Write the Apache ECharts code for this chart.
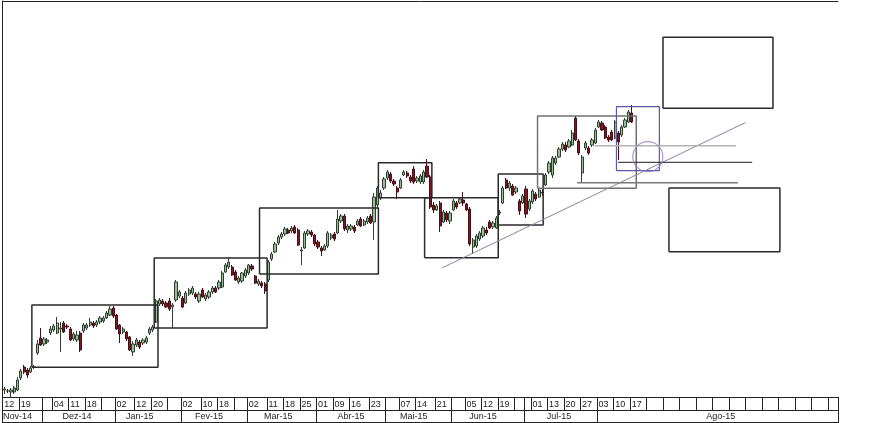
<!DOCTYPE html>
<html><head><meta charset="utf-8">
<script src="https://cdn.jsdelivr.net/npm/echarts@6/dist/echarts.min.js"></script>
<style>html,body{margin:0;padding:0;background:#fff}#c{width:880px;height:423px}</style>
</head><body><div id="c"></div>
<script>
// ---- time slots (trading days + empty future slots) ----
const slotCount = 253;
const categories = Array.from({length: slotCount}, (_, i) => String(i));

// day-row cells: start slot and label
const dayCellStart = [0,5,12,15,20,25,30,34,40,45,50,54,60,65,70,74,80,85,90,95,100,105,111,116,120,125,131,136,140,145,150,155,158,160,165,170,175,180,185,190,195,200,205,210,215,220,225,230,235,240,245,250];
const dayCellLabel = ['12','19','','04','11','18','','02','12','20','','02','10','18','','02','11','18','25','01','09','16','23','','07','14','21','','05','12','19','','','01','13','20','27','03','10','17','','','','','','','','','','','',''];

// month-row cells
const monthStart = [0,12,34,54,74,95,116,136,158,180];
const monthLabelSlot = [4,22,41,62,83,105,124,145,168,217];
const monthName = ['Nov-14','Dez-14','Jan-15','Fev-15','Mar-15','Abr-15','Mai-15','Jun-15','Jul-15','Ago-15'];

// ---- OHLC ----
const opens  = [11.0,10.9,10.8,10.8,11.0,12.2,13.3,13.0,12.8,13.3,14.7,16.2,15.6,15.8,16.7,17.0,16.7,17.1,17.7,17.4,17.1,16.1,16.0,16.7,16.9,17.2,17.5,17.7,17.5,17.8,17.9,18.2,18.5,19.2,18.5,17.5,16.8,16.8,16.3,14.8,15.5,15.8,15.7,15.8,16.7,17.0,17.8,19.6,19.9,19.7,19.9,19.3,20.0,20.4,20.2,19.7,20.6,20.7,20.6,19.9,21.0,20.1,20.3,20.8,21.2,21.2,21.3,22.8,23.3,23.3,22.8,21.8,21.9,22.4,22.7,23.4,22.4,21.6,21.7,21.6,22.0,24.1,24.8,25.7,26.3,26.6,27.0,26.9,27.3,27.0,24.9,25.2,26.6,26.8,26.5,25.8,25.2,25.0,25.4,26.2,26.6,26.7,27.9,28.4,27.0,27.1,27.3,27.5,28.1,27.5,27.8,28.4,27.8,29.5,30.2,31.2,32.2,32.6,31.9,31.2,31.2,32.5,32.7,32.3,33.1,31.9,31.8,31.8,33.4,32.3,29.5,29.0,29.7,27.8,28.7,27.9,29.0,29.7,29.7,30.0,29.6,29.1,25.3,25.4,26.1,26.4,27.0,27.8,27.3,27.2,28.7,29.7,32.0,31.2,31.4,30.8,29.9,29.7,31.1,29.1,29.8,30.6,30.3,30.8,31.5,32.8,32.5,33.7,34.3,35.1,35.5,35.3,35.5,38.2,35.9,32.7,35.2,35.2,35.5,35.7,37.3,37.7,37.3,36.3,36.8,36.2,36.7,36.5,37.3,37.8,38.7];
const closes = [11.1,10.9,11.0,11.2,12.0,12.9,12.8,12.5,13.2,13.3,15.6,15.5,16.1,16.0,17.1,17.4,17.7,17.2,16.8,17.3,16.0,16.6,16.5,15.0,17.5,17.5,17.8,17.4,17.8,18.2,18.2,18.7,19.1,18.4,17.1,16.6,17.1,16.1,15.0,15.6,16.0,15.3,16.0,16.2,17.1,17.3,19.9,20.0,19.6,19.3,19.1,19.5,21.8,20.8,19.3,20.7,21.0,21.2,20.3,20.6,20.3,20.5,20.8,21.2,20.8,21.8,22.7,23.5,23.8,22.5,22.0,22.2,22.7,23.0,23.5,23.1,21.7,21.9,21.4,20.9,23.8,24.6,25.6,26.3,26.6,27.1,26.7,27.2,26.7,25.5,25.0,26.7,26.9,26.5,25.6,25.3,24.9,25.4,26.7,26.5,26.1,28.1,28.4,27.1,27.4,27.4,26.9,27.9,27.4,27.9,28.2,27.7,30.3,31.2,30.7,32.1,32.8,31.9,31.6,30.8,32.0,32.8,32.4,31.9,31.8,32.2,32.4,32.8,32.3,29.3,29.0,29.4,27.4,28.8,28.0,28.7,29.9,29.3,30.1,29.7,29.0,25.6,26.0,26.4,26.7,27.2,26.7,27.2,27.7,28.2,28.8,31.2,31.2,31.7,30.5,31.2,28.9,30.4,28.6,29.9,30.9,30.1,31.0,30.7,32.5,33.7,34.2,34.2,35.1,35.6,35.0,35.9,36.7,36.0,34.7,34.3,35.7,34.7,36.0,37.0,37.8,37.0,36.2,36.0,36.0,37.8,35.8,37.3,38.0,38.8,37.8];
const lows   = [10.6,10.7,10.3,10.6,10.9,12.0,12.6,12.2,12.7,13.1,14.5,15.4,15.4,15.6,16.5,16.8,16.6,14.8,16.7,17.1,15.9,15.9,15.8,14.8,16.7,17.0,17.3,17.2,17.3,17.6,17.7,18.1,18.4,18.2,17.0,15.7,16.6,15.9,14.9,14.4,15.3,15.1,15.5,15.6,16.5,16.8,17.7,19.4,19.4,19.2,18.9,17.2,19.8,20.2,19.2,19.6,20.4,20.5,20.1,19.7,20.2,19.9,20.1,20.6,20.7,21.0,21.2,22.7,23.1,22.4,21.9,21.6,21.7,22.2,22.5,22.9,21.6,21.4,21.2,20.6,21.8,23.9,24.7,25.5,26.1,26.4,26.6,26.7,26.6,25.4,23.5,25.1,26.4,26.3,25.4,25.1,24.4,24.9,25.2,26.0,25.9,26.6,27.7,26.9,26.7,26.9,26.7,27.4,27.3,27.4,27.6,27.6,26.0,29.1,30.0,31.0,32.0,31.7,31.4,30.1,31.1,32.4,32.2,31.7,31.6,31.7,31.6,31.6,32.2,29.1,28.7,28.9,26.8,27.7,27.8,27.6,28.9,29.1,29.6,29.4,28.9,25.4,24.6,25.2,25.9,26.2,26.5,27.1,27.1,27.1,28.5,29.6,31.1,30.9,30.4,30.6,28.5,29.6,28.2,28.9,29.6,29.9,30.2,30.4,31.4,32.6,32.2,33.5,34.2,34.9,34.8,35.2,35.4,35.9,34.5,31.7,35.0,34.5,35.3,35.6,37.2,36.9,36.1,35.8,35.9,36.1,34.0,36.3,37.2,37.7,37.7];
const highs  = [11.3,11.1,11.2,11.4,12.3,13.1,13.5,13.2,13.4,13.5,16.0,17.2,16.3,16.2,17.4,17.6,18.3,17.8,17.9,17.6,17.3,16.8,16.9,16.9,17.7,17.7,18.2,17.9,18.0,18.4,18.4,18.9,19.4,19.4,18.6,17.6,17.3,16.9,16.4,15.9,16.2,16.0,16.2,16.4,17.3,17.5,20.1,20.2,20.1,19.9,20.2,19.7,22.0,21.0,20.4,20.9,21.2,21.4,20.8,20.8,21.2,20.7,21.0,21.4,21.4,22.0,22.9,23.7,24.2,23.5,23.0,22.4,22.8,23.2,23.6,23.6,22.5,22.1,21.9,21.8,24.0,24.8,25.8,26.5,26.8,27.3,27.2,27.4,27.5,27.2,25.3,26.9,27.1,27.0,26.6,26.0,25.4,25.6,26.9,26.7,26.8,29.0,28.6,28.6,27.6,27.6,27.5,28.1,28.3,28.1,28.4,28.6,30.7,31.4,31.0,32.3,33.0,32.8,32.1,31.4,32.2,33.0,32.9,32.5,33.4,32.4,32.6,33.0,34.1,32.5,29.8,29.6,29.9,29.0,28.9,28.9,30.1,29.9,30.3,30.8,29.7,29.3,26.2,26.6,26.9,27.4,27.3,28.0,27.9,28.4,29.0,31.4,32.2,31.9,31.6,31.4,30.1,30.6,31.4,30.1,31.1,30.8,31.2,31.1,32.7,33.9,34.4,34.4,35.3,35.8,35.8,36.1,37.0,38.4,36.1,34.5,35.9,35.4,36.2,37.2,38.0,37.9,37.5,36.5,37.0,38.0,36.9,37.5,38.2,39.0,39.5];

// ---- drawn annotations (slot, price) ----
const boxesDark  = [[8.85,47.05,13.27,19.5],[45.9,80.1,17.2,24.2],[77.8,113.8,22.6,29.2],[113.8,130.0,30.23,33.73],[127.8,150.1,24.23,30.23],[150.1,163.7,27.5,32.6],[200.0,233.3,39.17,46.27],[201.8,235.4,24.83,31.2]];
const boxesGrey  = [[162.0,191.9,31.17,38.4]];
const boxesBlue  = [[185.9,198.9,32.93,39.33]];
const trendLine  = [[133.0,23.2],[225.0,37.75]];
const hLineLight = [[179.2,35.43],[222.1,35.43]];
const hLineBlack = [[186.4,33.77],[227.0,33.77]];
const hLineGrey  = [[174.0,31.73],[222.7,31.73]];
const circleAt   = [[195.4,34.33]];

const candleData = opens.map((o, i) => [o, closes[i], lows[i], highs[i]]);
const dayLabelMap = {}; dayCellStart.forEach((s, i) => dayLabelMap[s] = dayCellLabel[i]);
const daySet = new Set(dayCellStart);
const monthSet = new Set(monthStart);
const monthLabelMap = {}; monthLabelSlot.forEach((s, i) => monthLabelMap[s] = monthName[i]);

function rect(b){ return [[b[0],b[2]],[b[1],b[2]],[b[1],b[3]],[b[0],b[3]],[b[0],b[2]]]; }
function lineSeries(data, color, width){
  return {type:'line', xAxisIndex:3, yAxisIndex:0, data, symbol:'none', silent:true, animation:false,
    lineStyle:{color, width}, z:5};
}

const font = {fontFamily:'Liberation Sans, Arial, sans-serif', fontSize:9, color:'#222'};
const series = [{
  type:'candlestick', xAxisIndex:0, yAxisIndex:0, data:candleData, barWidth:'82%', animation:false,
  itemStyle:{color:'#98bd98', color0:'#7a1a27', borderColor:'#2f402f', borderColor0:'#4a0e16', borderWidth:1}
}];
boxesDark.forEach(b => series.push(lineSeries(rect(b), '#2a2a2a', 1.5)));
boxesGrey.forEach(b => series.push(lineSeries(rect(b), '#707070', 1.5)));
boxesBlue.forEach(b => series.push(lineSeries(rect(b), '#5a58a8', 1.2)));
series.push(lineSeries(trendLine, '#8784a6', 1));
series.push(lineSeries(hLineLight, '#b4b4b4', 1.5));
series.push(lineSeries(hLineBlack, '#1a1a1a', 1));
series.push(lineSeries(hLineGrey, '#7a7a7a', 1.5));
series.push({type:'scatter', xAxisIndex:3, yAxisIndex:0, data:circleAt, symbol:'circle', symbolSize:30, silent:true, animation:false,
  itemStyle:{color:'rgba(0,0,0,0)', borderColor:'#9a7cc6', borderWidth:1.2}, z:6});

const chart = echarts.init(document.getElementById('c'), null, {renderer:'canvas'});
chart.setOption({
  animation:false,
  grid:{left:0, right:42, top:1, bottom:26},
  xAxis:[
    {type:'category', data:categories, position:'bottom', boundaryGap:true,
     axisLine:{lineStyle:{color:'#222', width:1}},
     axisTick:{show:true, interval:(i)=>daySet.has(i), length:13, lineStyle:{color:'#222'}},
     axisLabel:Object.assign({interval:(i)=>daySet.has(i) && dayLabelMap[i] !== '', formatter:(v,i)=>dayLabelMap[i]||'', align:'left', margin:3}, font),
     splitLine:{show:false}},
    {type:'category', data:categories, position:'bottom', offset:13, boundaryGap:true,
     axisLine:{lineStyle:{color:'#222', width:1}},
     axisTick:{show:true, interval:(i)=>monthSet.has(i), length:13, lineStyle:{color:'#222'}},
     axisLabel:Object.assign({interval:(i)=>monthLabelMap[i] !== undefined, formatter:(v,i)=>monthLabelMap[i]||'', align:'center', margin:2}, font),
     splitLine:{show:false}},
    {type:'category', data:categories, position:'bottom', offset:25.5, boundaryGap:true,
     axisLine:{lineStyle:{color:'#222', width:1}}, axisTick:{show:false}, axisLabel:{show:false}, splitLine:{show:false}},
    {type:'value', min:0, max:slotCount, position:'top',
     axisLine:{show:true, lineStyle:{color:'#222', width:1}}, axisTick:{show:false}, axisLabel:{show:false}, splitLine:{show:false}}
  ],
  yAxis:[{type:'value', min:10.3, max:49.9, position:'left',
    axisLine:{show:true, lineStyle:{color:'#222', width:1}}, axisTick:{show:false}, axisLabel:{show:false}, splitLine:{show:false}}],
  series
});
</script></body></html>
